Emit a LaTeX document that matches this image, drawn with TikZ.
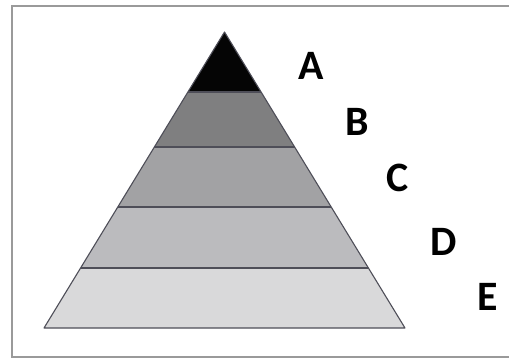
\documentclass[tikz,border=0pt]{standalone}
\usepackage{fontspec}
\setmainfont{Carlito}
\usetikzlibrary{calc}

\definecolor{levelA}{HTML}{050505}
\definecolor{levelB}{HTML}{7F7F80}
\definecolor{levelC}{HTML}{A2A2A4}
\definecolor{levelD}{HTML}{BBBBBE}
\definecolor{levelE}{HTML}{D9D9DA}
\definecolor{edgegray}{HTML}{4E4E58}
\definecolor{framegray}{HTML}{9A9A9A}

\tikzset{
  lvl label/.style={inner sep=0pt, font=\fontsize{42}{42}\selectfont\bfseries},
  lvl edge/.style={draw=edgegray, line width=1.1bp, line join=round}
}

\begin{document}
\begin{tikzpicture}[x=1bp,y=-1bp]
\useasboundingbox (0,0) rectangle (509,363);
\fill[white] (0,0) rectangle (509,363);

% frame, open on the right
\draw[framegray, line width=1.8bp] (509,6) -- (12,6) -- (12,357) -- (509,357);

\coordinate (apex) at (224.5,32);
\coordinate (baseL) at (44,328);
\coordinate (baseR) at (405,328);

% layers, top to bottom
\foreach \ta/\tb/\col in {0/0.2027/levelA, 0.2027/0.3885/levelB, 0.3885/0.5912/levelC,
                          0.5912/0.7973/levelD, 0.7973/1/levelE} {
  \fill[\col] ($(apex)!\ta!(baseL)$) -- ($(apex)!\tb!(baseL)$)
    -- ($(apex)!\tb!(baseR)$) -- ($(apex)!\ta!(baseR)$) -- cycle;
}
\foreach \t in {0.2027,0.3885,0.5912,0.7973}
  \draw[lvl edge] ($(apex)!\t!(baseL)$) -- ($(apex)!\t!(baseR)$);
\draw[lvl edge] (apex) -- (baseL) -- (baseR) -- cycle;

\node[lvl label] (labA) at (311,66) {A};
\node[lvl label] (labB) at (357,122) {B};
\node[lvl label] (labC) at (398,178) {C};
\node[lvl label] (labD) at (444,242) {D};
\node[lvl label] (labE) at (488,297) {E};
\end{tikzpicture}
\end{document}
